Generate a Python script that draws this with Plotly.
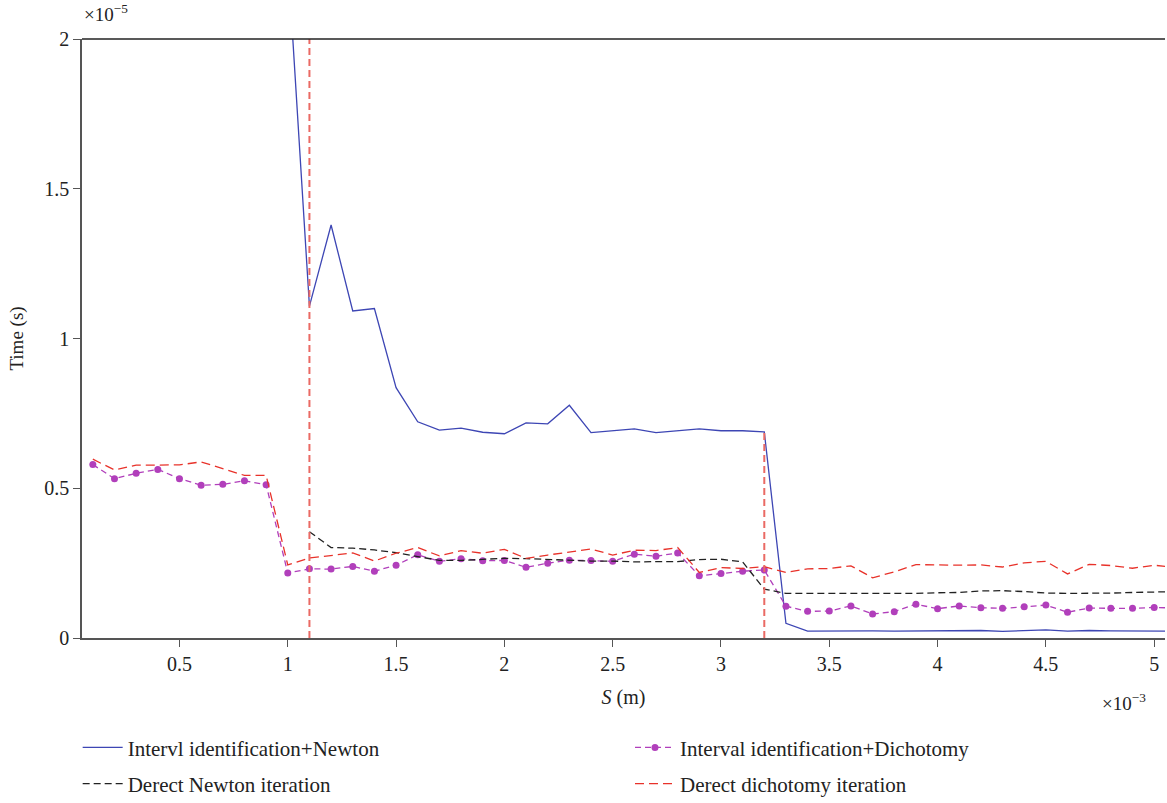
import plotly.graph_objects as go

# x positions (S, in units of 1e-3 m)
s_all = [0.1, 0.2, 0.3, 0.4, 0.5, 0.6, 0.7, 0.8, 0.9, 1.0,
         1.1, 1.2, 1.3, 1.4, 1.5, 1.6, 1.7, 1.8, 1.9, 2.0,
         2.1, 2.2, 2.3, 2.4, 2.5, 2.6, 2.7, 2.8, 2.9, 3.0,
         3.1, 3.2, 3.3, 3.4, 3.5, 3.6, 3.7, 3.8, 3.9, 4.0,
         4.1, 4.2, 4.3, 4.4, 4.5, 4.6, 4.7, 4.8, 4.9, 5.0, 5.1]
s_from_1_0 = s_all[9:]
s_from_1_1 = s_all[10:]

# Times (in units of 1e-5 s)
interval_newton = [2.27, 1.108, 1.379, 1.092, 1.100, 0.836, 0.722, 0.694, 0.701, 0.687,
                   0.682, 0.718, 0.715, 0.777, 0.686, 0.692, 0.698, 0.686, 0.693, 0.698,
                   0.692, 0.692, 0.688, 0.049, 0.023, 0.024, 0.024, 0.024, 0.023, 0.023,
                   0.023, 0.024, 0.025, 0.022, 0.024, 0.027, 0.023, 0.025, 0.024, 0.024,
                   0.023, 0.023]
interval_dichotomy = [0.579, 0.532, 0.550, 0.563, 0.532, 0.510, 0.513, 0.525, 0.512, 0.217,
                      0.231, 0.230, 0.239, 0.223, 0.243, 0.278, 0.256, 0.265, 0.258, 0.259,
                      0.236, 0.250, 0.260, 0.259, 0.256, 0.280, 0.273, 0.284, 0.208, 0.215,
                      0.223, 0.227, 0.106, 0.089, 0.090, 0.107, 0.080, 0.088, 0.113, 0.098,
                      0.107, 0.101, 0.099, 0.104, 0.110, 0.086, 0.100, 0.099, 0.099, 0.102,
                      0.100]
direct_newton = [0.355, 0.302, 0.300, 0.294, 0.285, 0.272, 0.259, 0.259, 0.262, 0.266,
                 0.265, 0.262, 0.260, 0.257, 0.257, 0.254, 0.255, 0.255, 0.262, 0.263,
                 0.254, 0.163, 0.149, 0.149, 0.149, 0.148, 0.148, 0.148, 0.149, 0.151,
                 0.152, 0.157, 0.158, 0.155, 0.150, 0.149, 0.149, 0.150, 0.152, 0.153,
                 0.155]
direct_dichotomy = [0.597, 0.561, 0.577, 0.578, 0.578, 0.588, 0.565, 0.543, 0.543, 0.244,
                    0.267, 0.276, 0.284, 0.257, 0.283, 0.302, 0.274, 0.292, 0.283, 0.296,
                    0.266, 0.277, 0.286, 0.297, 0.277, 0.293, 0.292, 0.302, 0.219, 0.235,
                    0.232, 0.238, 0.219, 0.231, 0.232, 0.241, 0.201, 0.221, 0.245, 0.243,
                    0.243, 0.244, 0.237, 0.251, 0.256, 0.214, 0.246, 0.242, 0.233, 0.243,
                    0.235]

# vertical marker lines
marker_s = [1.1, 3.2]
marker_top = [2.0, 0.69]

x_ticks = [0.5, 1, 1.5, 2, 2.5, 3, 3.5, 4, 4.5, 5]
x_ticklabels = ["0.5", "1", "1.5", "2", "2.5", "3", "3.5", "4", "4.5", "5"]
y_ticks = [0, 0.5, 1, 1.5, 2]
y_ticklabels = ["0", "0.5", "1", "1.5", "2"]

FONT = "Liberation Serif, Times New Roman, serif"
TXT = "#222222"

fig = go.Figure()

fig.add_trace(go.Scatter(
    x=s_from_1_0, y=interval_newton, mode="lines",
    name="Intervl identification+Newton", legend="legend", legendgroup="a",
    line=dict(color="#3d46b4", width=1.3)))

fig.add_trace(go.Scatter(
    x=s_all, y=interval_dichotomy, mode="lines+markers",
    name="Interval identification+Dichotomy", legend="legend2", legendgroup="b",
    line=dict(color="#b13fbb", width=1.3, dash="6px,4px"),
    marker=dict(color="#b13fbb", size=7)))

fig.add_trace(go.Scatter(
    x=s_from_1_1, y=direct_newton, mode="lines",
    name="Derect Newton iteration", legend="legend", legendgroup="c",
    line=dict(color="#222222", width=1.3, dash="7px,4px")))

fig.add_trace(go.Scatter(
    x=s_all, y=direct_dichotomy, mode="lines",
    name="Derect dichotomy iteration", legend="legend2", legendgroup="d",
    line=dict(color="#e8322a", width=1.3, dash="9px,5px")))

for sx, top in zip(marker_s, marker_top):
    fig.add_trace(go.Scatter(
        x=[sx, sx], y=[0, top], mode="lines", showlegend=False,
        line=dict(color="#ea6a64", width=2, dash="7px,4px"),
        hoverinfo="skip"))

legend_common = dict(
    orientation="v", yanchor="top", xanchor="left",
    font=dict(family=FONT, size=21, color=TXT),
    traceorder="grouped", tracegroupgap=6, itemwidth=40,
    bgcolor="rgba(0,0,0,0)")

fig.update_layout(
    width=1167, height=803,
    margin=dict(l=82, r=2, t=39, b=165, autoexpand=False),
    paper_bgcolor="white", plot_bgcolor="white",
    font=dict(family=FONT, size=20, color=TXT),
    showlegend=True,
    legend=dict(x=-0.004, y=-0.149, **legend_common),
    legend2=dict(x=0.506, y=-0.149, **legend_common),
    xaxis=dict(
        range=[0.05, 5.05], tickvals=x_ticks, ticktext=x_ticklabels,
        showgrid=False, zeroline=False, showline=True, linecolor="#555555", linewidth=1.5,
        ticks="outside", ticklen=7, tickcolor="#555555", tickwidth=1.2, automargin=False,
        title=dict(text="<i>S</i> (m)", font=dict(family=FONT, size=20), standoff=16),
        tickfont=dict(family=FONT, size=20)),
    yaxis=dict(
        range=[0, 2], tickvals=y_ticks, ticktext=y_ticklabels,
        showgrid=False, zeroline=False, showline=True, linecolor="#555555", linewidth=1.5,
        ticks="outside", ticklen=7, tickcolor="#555555", tickwidth=1.2, automargin=False,
        title=dict(text="Time (s)", font=dict(family=FONT, size=19), standoff=16),
        tickfont=dict(family=FONT, size=20)),
    shapes=[dict(type="line", xref="paper", yref="paper", x0=0, x1=1, y0=1, y1=1,
                 line=dict(color="#222222", width=1.5))],
    annotations=[
        dict(text="×10<sup>−5</sup>", xref="paper", yref="paper", x=0.0, y=1.0,
             xanchor="left", yanchor="bottom", yshift=12, showarrow=False,
             font=dict(family=FONT, size=19)),
        dict(text="×10<sup>−3</sup>", xref="paper", yref="paper", x=0.962, y=0,
             xanchor="center", yanchor="top", yshift=-50, showarrow=False,
             font=dict(family=FONT, size=19)),
    ],
)

fig.write_html("out.html", config={"displayModeBar": False},
               post_script="document.body.style.margin='0';document.body.style.overflow='hidden';")
